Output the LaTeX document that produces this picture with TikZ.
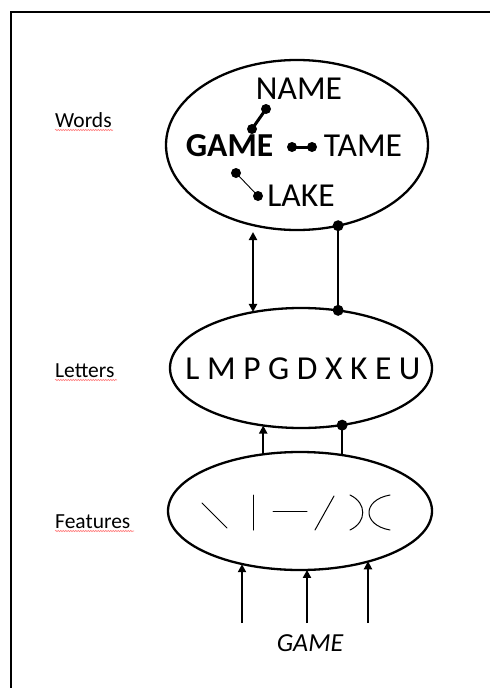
\documentclass[tikz,border=0pt]{standalone}
\usepackage{fontspec}
\setmainfont{Carlito}
\usetikzlibrary{shapes.geometric,arrows.meta,decorations.pathmorphing}
\begin{document}
\begin{tikzpicture}[x=1pt,y=-1pt,
  layer/.style={draw,ellipse,line width=2.3pt,inner sep=0pt,outer sep=0pt},
  word/.style={inner sep=0pt,font=\fontsize{33.5}{36}\selectfont},
  lbl/.style={inner sep=0pt,anchor=base west,font=\fontsize{21.5}{24}\selectfont},
  conn/.style={line width=2.1pt},
  tri/.style={-{Triangle[width=8pt,length=8pt]}},
  bitri/.style={{Triangle[width=8pt,length=8pt]}-{Triangle[width=8pt,length=8pt]}},
  squiggle/.style={red!50,line width=0.6pt,decorate,decoration={snake,amplitude=0.7pt,segment length=2.5pt}},
  feat/.style={line width=1pt,line cap=round}
]
\useasboundingbox (0,0) rectangle (490,688);
% frame
\draw[line width=1.6pt] (11,688) -- (11,12) -- (490,12);

% level labels
\node[lbl] (lw) at (55,127) {Words};
\draw[squiggle] (55,130) -- (113,130);
\node[lbl] (ll) at (55,377) {Letters};
\draw[squiggle] (55,380) -- (117,380);
\node[lbl] (lf) at (55,528) {Features};
\draw[squiggle] (55,531) -- (134,531);

% ellipses
\node[layer,minimum width=262pt,minimum height=170pt] (words) at (297,145) {};
\node[layer,minimum width=262pt,minimum height=120pt] (letters) at (301,368) {};
\node[layer,minimum width=264pt,minimum height=118pt] (features) at (300,511) {};

% words
\node[word] (name) at (299,89) {NAME};
\node[word,font=\bfseries\fontsize{33.5}{36}\selectfont] (game) at (229.5,146) {GAME};
\node[word] (tame) at (363,146) {TAME};
\node[word] (lake) at (301,196) {LAKE};

\coordinate (ng1) at (266,109);
\coordinate (ng2) at (252,129);
\coordinate (gt1) at (292,147);
\coordinate (gt2) at (312,147);
\coordinate (gl1) at (236,173);
\coordinate (gl2) at (258,196);
\draw[line width=3pt] (ng1) -- (ng2);
\draw[line width=3pt] (gt1) -- (gt2);
\draw[line width=0.9pt] (gl1) -- (gl2);
\foreach \p in {ng1,ng2,gt1,gt2,gl1,gl2} \fill (\p) circle (5pt);

% letters
\node[word] (lettext) at (303,369) {L M P G D X K E U};

% features glyphs
\draw[feat] (202,503) -- (227,528);
\draw[feat] (253,495) -- (253,530);
\draw[feat] (273,511) -- (307,511);
\draw[feat] (315,530) -- (334,496);
\draw[feat] (350,495) .. controls (367,503) and (367,522) .. (350,530);
\draw[feat] (390,495) .. controls (362,500) and (362,525) .. (390,530);

% words <-> letters
\coordinate (wl) at (253,232);
\draw[conn,bitri] (wl) -- (wl |- letters.130.7);
\coordinate (wr) at (words.-63.7);
\coordinate (lr) at (wr |- letters.58);
\draw[conn] (wr) -- (lr);
\fill (wr) circle (5.5pt);
\fill (lr) circle (5.5pt);

% letters <-> features
\coordinate (fl) at (features.123.2);
\draw[conn,tri] (fl) -- (fl |- letters.-123.5);
\coordinate (fr) at (features.53.8);
\coordinate (lb) at (fr |- letters.-55);
\draw[conn] (fr) -- (lb);
\fill (lb) circle (5.5pt);

% input
\node[inner sep=0pt,font=\itshape\fontsize{26}{28}\selectfont] (input) at (310,643) {GAME};
\coordinate (i1) at (242,623);
\coordinate (i2) at (307,623);
\coordinate (i3) at (368,623);
\draw[conn,tri] (i1) -- (i1 |- features.-137.6);
\draw[conn,tri] (i2) -- (i2 |- features.-83.2);
\draw[conn,tri] (i3) -- (i3 |- features.-36.6);
\end{tikzpicture}
\end{document}
